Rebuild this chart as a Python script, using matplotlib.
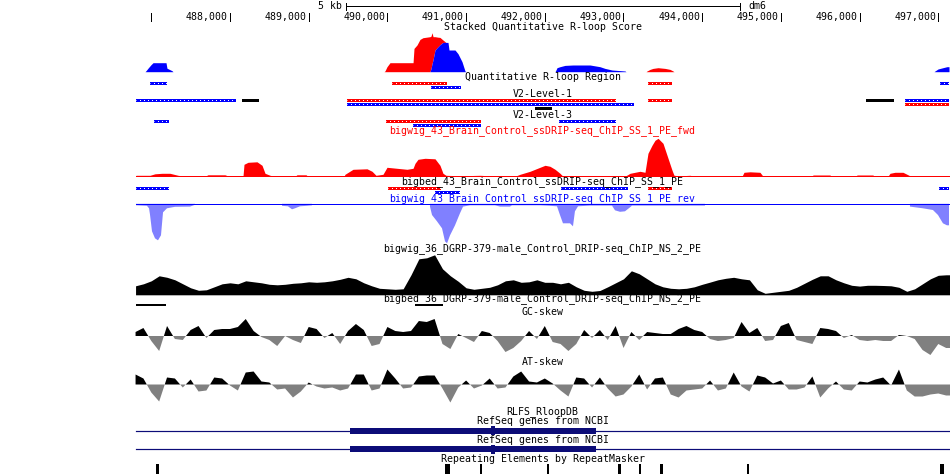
import numpy as np
import matplotlib
matplotlib.use("Agg")
import matplotlib.pyplot as plt

# dm6 window, positions in kb
view_start, view_end = 485.0775, 497.1487
data_start, data_end = 486.806, 497.136
mid_kb = (data_start + data_end) / 2

ruler_kb = list(range(487, 498))
scale_start, scale_len = 489.48, 5

# stacked quantitative R-loop score (rev stacked under fwd)
stack_kb = [486.920, 486.933, 486.958, 486.996, 487.022, 487.187, 487.199, 487.263, 487.276,
            489.957, 489.969, 489.995, 490.033, 490.326, 490.338, 490.376, 490.414, 490.452,
            490.541, 490.554, 490.567, 490.580, 490.605, 490.643, 490.668, 490.706, 490.744,
            490.770, 490.783, 490.859, 490.897, 490.948, 490.986, 490.999,
            492.130, 492.142, 492.155, 492.193, 492.257, 492.358, 492.574, 492.701, 492.765,
            492.854, 493.019, 493.032,
            493.286, 493.299, 493.337, 493.375, 493.439, 493.528, 493.591, 493.629, 493.642,
            496.945, 496.958, 496.996, 497.059, 497.110, 497.136]
stack_rev = [0, 1, 3.5, 7, 9, 9, 3.5, 1, 0,
             0, 0, 0, 0, 0, 0, 0, 0, 0,
             0, 3, 8, 12, 21.7, 25, 27, 29.3, 29.3,
             29.3, 21.7, 21.7, 18, 10, 0.7, 0,
             0, 1.7, 4, 5, 6.3, 6.7, 6.7, 5, 3.3,
             1.7, 0.7, 0,
             0, 0, 0, 0, 0, 0, 0, 0, 0,
             0, 0.7, 2.7, 4, 5, 5]
stack_fwd = [0, 0, 0, 0, 0, 0, 0, 0, 0,
             0, 0.7, 5, 9, 9, 23.3, 26.7, 32.3, 34,
             35, 32.5, 31, 23, 13.3, 9.5, 7.3, 2.4, 0,
             0, 0, 0, 0, 0, 0, 0,
             0, 0, 0, 0, 0, 0, 0, 0, 0,
             0, 0, 0,
             0, 0.7, 2.3, 3.3, 4, 3.3, 2.3, 0.7, 0,
             0, 0, 0, 0, 0, 0]

# bigwig_43 fwd
fwd_kb = [486.806, 486.983, 487.047, 487.136, 487.237, 487.339, 487.428, 487.682, 487.720,
          487.936, 487.987, 488.165, 488.178, 488.229, 488.343, 488.407, 488.445, 488.509,
          488.572, 488.826, 488.851, 488.966, 488.991, 489.449, 489.461, 489.563, 489.741,
          489.805, 489.855, 489.944, 489.995, 490.122, 490.249, 490.326, 490.351, 490.389,
          490.478, 490.605, 490.668, 490.706, 490.744, 490.922, 491.177, 491.304, 491.367,
          491.621, 491.685, 491.812, 491.939, 492.003, 492.066, 492.130, 492.193, 492.231,
          493.019, 493.083, 493.210, 493.273, 493.311, 493.362, 493.400, 493.439, 493.502,
          493.553, 493.617, 493.642, 493.718, 493.845, 493.909, 494.506, 494.531, 494.607,
          494.734, 494.773, 495.395, 495.408, 495.624, 495.637, 495.954, 495.967, 496.170,
          496.183, 496.361, 496.386, 496.450, 496.551, 496.602, 496.640, 496.831, 497.136]
fwd_val = [1, 1, 2.5, 3, 3, 1, 0, 0, 1.5,
           1.5, 0, 0, 12, 14, 14.5, 11, 3, 1,
           0, 0, 1.5, 1.5, 0, 0, 2, 7, 7.5,
           5, 1, 2, 9, 8, 7, 8, 13, 17,
           18, 17.5, 11, 3, 1, 0.5, 1, 0.5, 0,
           0, 2, 5, 9, 11, 10, 7, 3, 0,
           0, 3, 5, 4, 23, 31, 36, 38, 33,
           21, 6, 1, 0.5, 1, 0, 0, 4, 4.5,
           4, 0, 0, 1.3, 1.3, 0, 0, 1.3, 1.3,
           0, 0, 3, 4, 4, 2, 0.5, 0, 0]

# bigwig_43 rev (depth)
rev_kb = [486.806, 486.945, 486.971, 486.983, 487.009, 487.047, 487.085, 487.123, 487.149,
          487.199, 487.301, 487.492, 487.555, 487.682, 487.707, 487.962, 487.987, 488.635,
          488.661, 488.737, 488.788, 488.826, 488.889, 488.979, 489.042, 489.118, 490.503,
          490.541, 490.567, 490.630, 490.694, 490.732, 490.758, 490.796, 490.859, 490.922,
          490.961, 491.050, 491.367, 491.431, 491.558, 491.583, 491.939, 492.066, 492.155,
          492.193, 492.231, 492.320, 492.358, 492.383, 492.422, 492.574, 492.854, 492.892,
          492.956, 493.019, 493.083, 493.108, 494.035, 494.061, 496.602, 496.640, 496.805,
          496.932, 496.996, 497.059, 497.110, 497.136]
rev_val = [1, 1.5, 4, 10, 27, 34, 36, 31, 8,
           4, 2.5, 2.3, 0.5, 0, 1, 1, 0, 0,
           1.5, 2, 5, 4, 2, 1.5, 1, 0, 0,
           2.3, 10.7, 17, 24, 37, 39, 31, 21, 9,
           2.3, 1, 1, 2.3, 2.3, 1, 1, 1.5, 2,
           10.7, 19, 19, 22, 7, 2, 1.3, 1.3, 6,
           7.5, 7, 3, 1.3, 1.3, 0, 0, 2.3, 4,
           5.7, 10.7, 19, 21, 21]

# fixed-step 100 bp tracks starting at 486.8 kb
grid_start, grid_step = 486.8, 0.1
drip_val = [9, 11, 14, 19, 17.5, 15, 11, 7, 4.5, 5,
            8, 11, 12, 11, 14, 13, 12, 10.5, 10, 10.5,
            11.5, 12, 13, 12.5, 13, 14, 15.5, 17.5, 16, 12,
            9, 6.5, 6, 5.5, 6, 20, 36, 37, 40, 26,
            19, 13.5, 7, 5.5, 6.5, 7.5, 10, 14, 15, 12.5,
            13, 15, 12.5, 12.5, 11, 12.5, 8, 4.5, 3.5, 4.3,
            8, 12, 16, 24, 21, 16, 11, 8, 6.5, 6,
            6.5, 8, 10.5, 12.7, 15, 16.5, 17.5, 16, 15, 5,
            1.5, 2.5, 3.5, 4.5, 7.5, 11.5, 15.5, 19, 19, 15,
            12, 9.5, 8.7, 9.5, 9.5, 9.3, 9, 7.5, 3.5, 6,
            11, 16, 19.5, 20, 20]
gc_skew = [4, 8, -5, -15, 10, -3, -4, 6, 10, -2,
           6, 7, 7, 9, 17, 5, -1, -4, -10, 0,
           -4, -7, 9, 7, -2, 3, -8, 5, 12, 6,
           -10, -8, 9, 5, 4, 5, 15, 14, 17, -8,
           -13, 2, -2, -6, 5, 3, -5, -16, -12, -5,
           5, -3, 10, -6, -8, -15, -8, 6, -2, 6,
           -4, 10, -12, 4, -4, 4, 3, 2, 2, 7,
           10, 6, 4, -3, -5, -4, -2, 14, 3, 8,
           -5, -4, 10, 13, -4, -6, -8, 8, 7, 5,
           -2, 1, -4, -5, -4, -5, -5, 1, 0, -3,
           -14, -19, -8, -12, -12]
at_skew = [10, 6, -8, -17, 7, 6, -3, 5, -7, -6,
           7, 6, -1, -6, 12, 13, 3, 2, -5, -4,
           -13, -7, 2, -2, -4, -3, -6, -4, 10, 10,
           -6, -4, 15, 6, -4, -3, 8, 9, 9, -4,
           -18, -3, 4, -4, -1, 6, -4, -3, 8, 13,
           3, 2, 6, 1, -6, -12, 7, 6, -3, 7,
           -4, -12, -10, -2, 10, -5, 6, 7, -10, -13,
           -6, -5, -4, 4, -6, -4, 12, -2, -7, 9,
           7, 1, 4, -5, -5, -3, 8, -13, -4, 3,
           -5, -6, 3, 2, 5, 7, -1, 15, -6, -12,
           -12, -10, -9, -11, -11]

# bed features: (start kb, end kb, colour, sub-row)
qr_regions = [(486.983, 487.199, "blue", 0), (490.058, 490.757, "red", 0),
              (490.554, 490.935, "blue", 1), (493.311, 493.617, "red", 0),
              (497.022, 497.136, "blue", 0)]
v2_level1 = [(486.806, 488.077, "blue", 0), (488.153, 488.369, "black", 0),
             (489.487, 492.903, "red", 0), (489.487, 493.133, "blue", 1),
             (491.876, 492.092, "black", 2), (493.311, 493.617, "red", 0),
             (496.081, 496.436, "black", 0), (496.576, 497.136, "blue", 0),
             (496.576, 497.136, "red", 1)]
v2_level3 = [(487.034, 487.225, "blue", 0), (489.983, 491.190, "red", 0),
             (490.325, 491.190, "blue", 1), (492.181, 492.905, "blue", 0)]
bigbed_43 = [(486.806, 487.225, "blue", 0), (490.007, 490.681, "red", 0),
             (490.605, 490.922, "blue", 1), (492.206, 493.057, "blue", 0),
             (493.311, 493.617, "red", 0), (497.009, 497.136, "blue", 0)]
bigbed_36 = [(486.806, 487.187), (490.351, 490.706)]

gene_thick = (489.525, 492.651)
gene_mark = (491.316, 491.367)
repeats = [(487.060, 487.098), (490.732, 490.795), (491.177, 491.202), (492.028, 492.053),
           (492.930, 492.968), (493.197, 493.222), (493.464, 493.502), (494.569, 494.595),
           (497.022, 497.072)]

labels = [("Stacked Quantitative R-loop Score", 26.7, "black"),
          ("Quantitative R-loop Region", 76.7, "black"),
          ("V2-Level-1", 94.0, "black"),
          ("V2-Level-3", 115.0, "black"),
          ("bigwig_43_Brain_Control_ssDRIP-seq_ChIP_SS_1_PE_fwd", 131.0, "#ff0000"),
          ("bigbed_43_Brain_Control_ssDRIP-seq_ChIP_SS_1_PE", 181.7, "black"),
          ("bigwig_43_Brain_Control_ssDRIP-seq_ChIP_SS_1_PE_rev", 198.3, "#0000ff"),
          ("bigwig_36_DGRP-379-male_Control_DRIP-seq_ChIP_NS_2_PE", 249.0, "black"),
          ("bigbed_36_DGRP-379-male_Control_DRIP-seq_ChIP_NS_2_PE", 298.7, "black"),
          ("GC-skew", 311.7, "black"),
          ("AT-skew", 361.7, "black"),
          ("RLFS_RloopDB", 411.7, "black"),
          ("RefSeq genes from NCBI", 420.9, "black"),
          ("RefSeq genes from NCBI", 440.0, "black"),
          ("Repeating Elements by RepeatMasker", 459.0, "black")]

RED, BLUE, LIGHT_BLUE, GREY, NAVY = "#ff0000", "#0000ff", "#8080ff", "#808080", "#0c0c78"
PX = 0.72  # one pixel in points

plt.rcParams["font.family"] = "DejaVu Sans Mono"
plt.rcParams["font.size"] = 7.1

fig = plt.figure(figsize=(9.5, 4.74), dpi=100)
ax = fig.add_axes([0, 0, 1, 1])
ax.set_xlim(view_start, view_end)
ax.set_ylim(474, 0)
ax.axis("off")

# scale bar and ruler
scale_end = scale_start + scale_len
ax.plot([scale_start, scale_end], [6, 6], color="black", lw=PX)
for k in (scale_start, scale_end):
    ax.plot([k, k], [2.5, 10], color="black", lw=PX)
ax.annotate(f"{scale_len} kb", (scale_start, 6), xytext=(-3.5, 0), textcoords="offset points",
            ha="right", va="center")
ax.annotate("dm6", (scale_end, 6), xytext=(6, 0), textcoords="offset points",
            ha="left", va="center")
for k in ruler_kb:
    ax.plot([k, k], [13, 21], color="black", lw=PX)
    if k > ruler_kb[0]:
        ax.annotate(f"{k * 1000:,}", (k, 17), xytext=(-1.5, 0), textcoords="offset points",
                    ha="right", va="center")

for txt, y, col in labels:
    ax.text(mid_kb, y, txt, color=col, ha="center", va="center")

# stacked score
base = 71.7
sx = np.array(stack_kb)
srev = np.array(stack_rev)
sfwd = np.array(stack_fwd)
ax.fill_between(sx, base - srev, base - srev - sfwd, color=RED, lw=0)
ax.fill_between(sx, base, base - srev, color=BLUE, lw=0)


def draw_beds(feats, y, gap=4.0, h=3.0):
    for s, e, col, row in feats:
        yc = y + row * gap
        ax.broken_barh([(s, e - s)], (yc - h / 2, h), facecolors=col, lw=0)
        if col != "black":
            ax.plot([s, e], [yc, yc], color="white", lw=PX, ls=(0.5, (1, 3)))


draw_beds(qr_regions, 83.3)
draw_beds(v2_level1, 100.2)
draw_beds(v2_level3, 121.3)
draw_beds(bigbed_43, 188.3)
for s, e in bigbed_36:
    ax.broken_barh([(s, e - s)], (303.5, 2.2), facecolors="black", lw=0)

# fwd signal
base = 176.3
ax.plot([data_start, data_end], [base, base], color=RED, lw=PX)
ax.fill_between(np.array(fwd_kb), base, base - np.array(fwd_val), color=RED, lw=0)

# rev signal
base = 204.3
rv = np.array(rev_val)
ax.plot([data_start, data_end], [base, base], color=BLUE, lw=PX)
ax.fill_between(np.array(rev_kb), base - 0.5, base + rv, where=rv > 0, color=LIGHT_BLUE, lw=0)

# fixed-step tracks
grid_kb = grid_start + grid_step * np.arange(len(drip_val))
base = 294.8
ax.fill_between(grid_kb, base, base - np.array(drip_val), color="black", lw=0)

for vals, base in ((gc_skew, 336.0), (at_skew, 384.5)):
    v = np.array(vals, dtype=float)
    ax.fill_between(grid_kb, base, base - v, where=v >= 0, interpolate=True, color="black", lw=0)
    ax.fill_between(grid_kb, base, base - v, where=v <= 0, interpolate=True, color=GREY, lw=0)

# RefSeq genes
for y in (430.5, 449.3):
    ax.plot([data_start, data_end], [y, y], color=NAVY, lw=PX * 1.2)
    ax.broken_barh([(gene_thick[0], gene_thick[1] - gene_thick[0])], (y - 3, 6), facecolors=NAVY, lw=0)
    ax.broken_barh([(gene_mark[0], gene_mark[1] - gene_mark[0])], (y - 4.7, 9.4), facecolors=NAVY, lw=0)

# repeats
ax.broken_barh([(s, e - s) for s, e in repeats], (464, 10), facecolors="black", lw=0)

ax.set_xlim(view_start, view_end)
fig.savefig("out.png", dpi=100)
